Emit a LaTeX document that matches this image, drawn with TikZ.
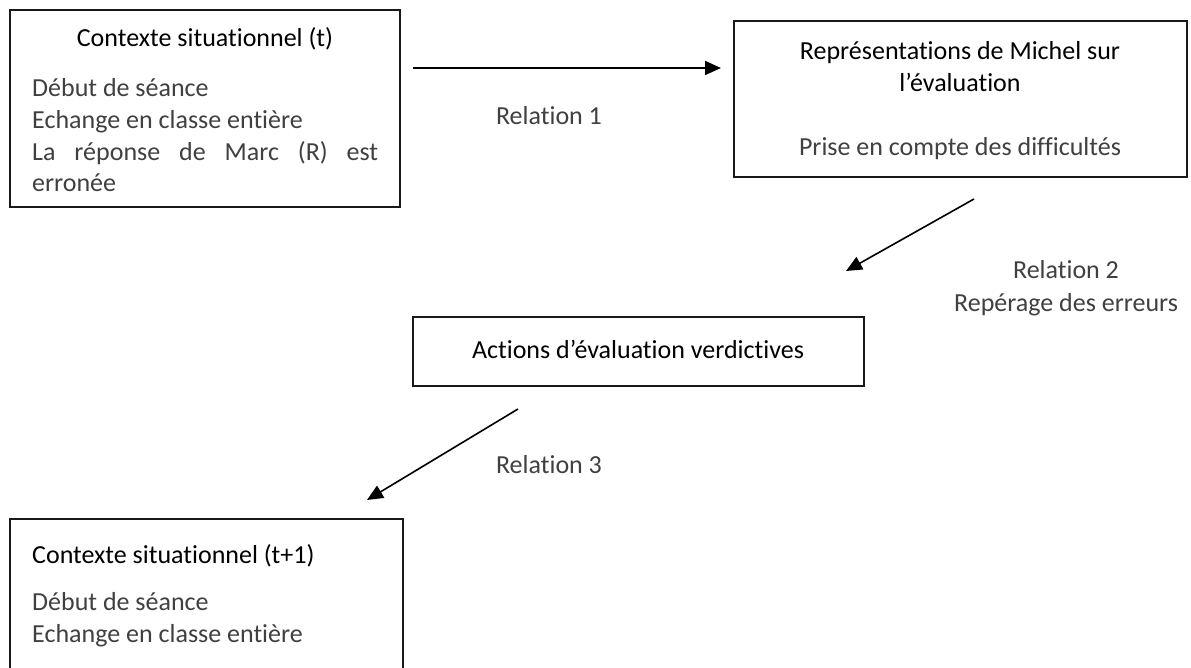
\documentclass[tikz,border=0pt]{standalone}
\usepackage{fontspec}
\setmainfont{Carlito}[Ligatures=NoCommon]
\usetikzlibrary{arrows.meta}
\tikzset{
  box/.style={draw=black!90, line width=1.4pt, inner sep=0pt},
  ttl/.style={inner sep=0pt, font=\fontsize{26}{30}\selectfont, text=black},
  bdy/.style={inner sep=0pt, font=\fontsize{26}{30}\selectfont, text=black!75},
  rel/.style={line width=1.6pt, -{Triangle[length=16pt,width=14pt]}},
}
\begin{document}
\begin{tikzpicture}[x=1pt,y=-1pt]
\useasboundingbox (0,0) rectangle (1191,668);
\clip (0,0) rectangle (1191,668);
\fill[white] (0,0) rectangle (1191,668);
% Box 1
\draw[box] (10,10) rectangle (400,207);
\node[ttl, anchor=base] (t1) at (205,47) {Contexte situationnel (t)};
\node[bdy, anchor=base west] (b1a) at (32,97) {Début de séance};
\node[bdy, anchor=base west] (b1b) at (32,129) {Echange en classe entière};
\node[bdy, anchor=base west] (b1c) at (32,161) {\makebox[346pt][s]{La réponse de Marc (R) est}};
\node[bdy, anchor=base west] (b1d) at (32,192) {erronée};
% Box 2
\draw[box] (734,21) rectangle (1187,177);
\node[ttl, anchor=base] (t2a) at (960,60) {Représentations de Michel sur};
\node[ttl, anchor=base] (t2b) at (960,92) {l’évaluation};
\node[bdy, anchor=base] (b2) at (960,156) {Prise en compte des difficultés};
% Box 3
\draw[box] (413,317) rectangle (864,386);
\node[ttl, anchor=base] (t3) at (638,358) {Actions d’évaluation verdictives};
% Box 4
\draw[box] (10,519) rectangle (403,720);
\node[ttl, anchor=base west] (t4) at (32,563) {Contexte situationnel (t+1)};
\node[bdy, anchor=base west] (b4a) at (32,610) {Début de séance};
\node[bdy, anchor=base west] (b4b) at (32,642) {Echange en classe entière};
% Arrows
\coordinate (a1s) at (413,68);
\coordinate (a1e) at (721,68);
\coordinate (a2s) at (974,199);
\coordinate (a2e) at (846,271);
\coordinate (a3s) at (518,409);
\coordinate (a3e) at (367,500);
\draw[rel] (a1s) -- (a1e);
\draw[rel] (a2s) -- (a2e);
\draw[rel] (a3s) -- (a3e);
% Labels
\node[bdy, anchor=base] (r1) at (549,125) {Relation 1};
\node[bdy, anchor=base] (r2a) at (1066,279) {Relation 2};
\node[bdy, anchor=base] (r2b) at (1066,311) {Repérage des erreurs};
\node[bdy, anchor=base] (r3) at (549,473) {Relation 3};
\end{tikzpicture}
\end{document}
